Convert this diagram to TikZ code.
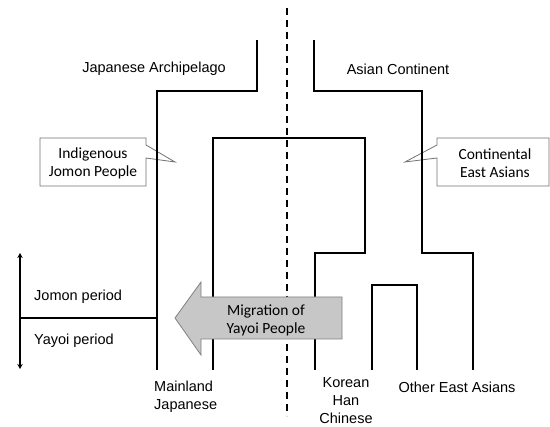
\documentclass[tikz,border=0pt]{standalone}
\usepackage{fontspec}
\setmainfont{Liberation Sans}
\newfontfamily\calloutfont{Carlito}
\usetikzlibrary{arrows.meta}

\begin{document}
\begin{tikzpicture}[x=1pt,y=-1pt,%%
  treeStyle/.style={-,line width=1.7pt,line join=miter},%%
  borderStyle/.style={-,line width=1.6pt,dashed,dash pattern=on 7pt off 5pt},%%
  periodStyle/.style={{Stealth[length=5pt,width=5.5pt]}-{Stealth[length=5pt,width=5.5pt]},line width=1.5pt},%%
  calloutStyle/.style={draw=black!55,line width=0.8pt,fill=white},%%
  calloutText/.style={font=\calloutfont\fontsize{15.5}{18}\selectfont,align=center,inner sep=0pt},%%
  migrationStyle/.style={draw=black!50,line width=0.8pt,fill=black!22},%%
  labelText/.style={font=\fontsize{14.5}{18}\selectfont,inner sep=0pt}
]
\useasboundingbox (0,0) rectangle (550,427);
%%
%% Callouts (drawn first, the tree runs over the pointers).
\draw[calloutStyle] (40,138) -- (146,138) -- (146,145) -- (175,162)
  -- (146,158) -- (146,186) -- (40,186) -- cycle;
\node[calloutText] (jomonPeople) at (93,163) {Indigenous\\Jomon People};
\draw[calloutStyle] (549,138) -- (437,138) -- (437,145) -- (405,162)
  -- (437,158) -- (437,186) -- (549,186) -- cycle;
\node[calloutText] (eastAsians) at (495,163) {Continental\\East Asians};
%%
%% Border between archipelago and continent.
\coordinate (borderTop) at (287,8);
\coordinate (borderBottom) at (287,416);
\draw[borderStyle] (borderTop) -- (borderBottom);
%%
%% The tree.
\draw[treeStyle] (257,40) -- (257,91) -- (157,91) -- (157,370);
\draw[treeStyle] (314,40) -- (314,91) -- (422,91) -- (422,253)
  -- (473,253) -- (473,370);
\draw[treeStyle] (213,370) -- (213,138) -- (365,138) -- (365,253)
  -- (315,253) -- (315,370);
\draw[treeStyle] (372,370) -- (372,285) -- (417,285) -- (417,370);
%%
%% Time axis.
\coordinate (periodTop) at (20,253);
\coordinate (periodBottom) at (20,369);
\coordinate (periodSplit) at (20,318);
\coordinate (periodEnd) at (157,318);
\draw[periodStyle] (periodTop) -- (periodBottom);
\draw[treeStyle,line width=1.4pt] (periodSplit) -- (periodEnd);
\node[labelText,anchor=west] (jomonPeriod) at (34,297) {Jomon period};
\node[labelText,anchor=west] (yayoiPeriod) at (34,341) {Yayoi period};
%%
%% Migration arrow.
\draw[migrationStyle] (342,297) -- (201,297) -- (201,282) -- (175,318)
  -- (201,355) -- (201,339) -- (342,339) -- cycle;
\node[calloutText] (migration) at (266,320) {Migration of\\Yayoi People};
%%
%% Region and leaf labels.
\node[labelText] (archipelago) at (154,69) {Japanese Archipelago};
\node[labelText] (continent) at (398,69) {Asian Continent};
\node[labelText,align=left,anchor=west] (mainland) at (154,397) {Mainland\\Japanese};
\node[labelText,align=center] (korean) at (346,401) {Korean\\Han\\Chinese};
\node[labelText] (others) at (457,387) {Other East Asians};
\end{tikzpicture}
\end{document}
